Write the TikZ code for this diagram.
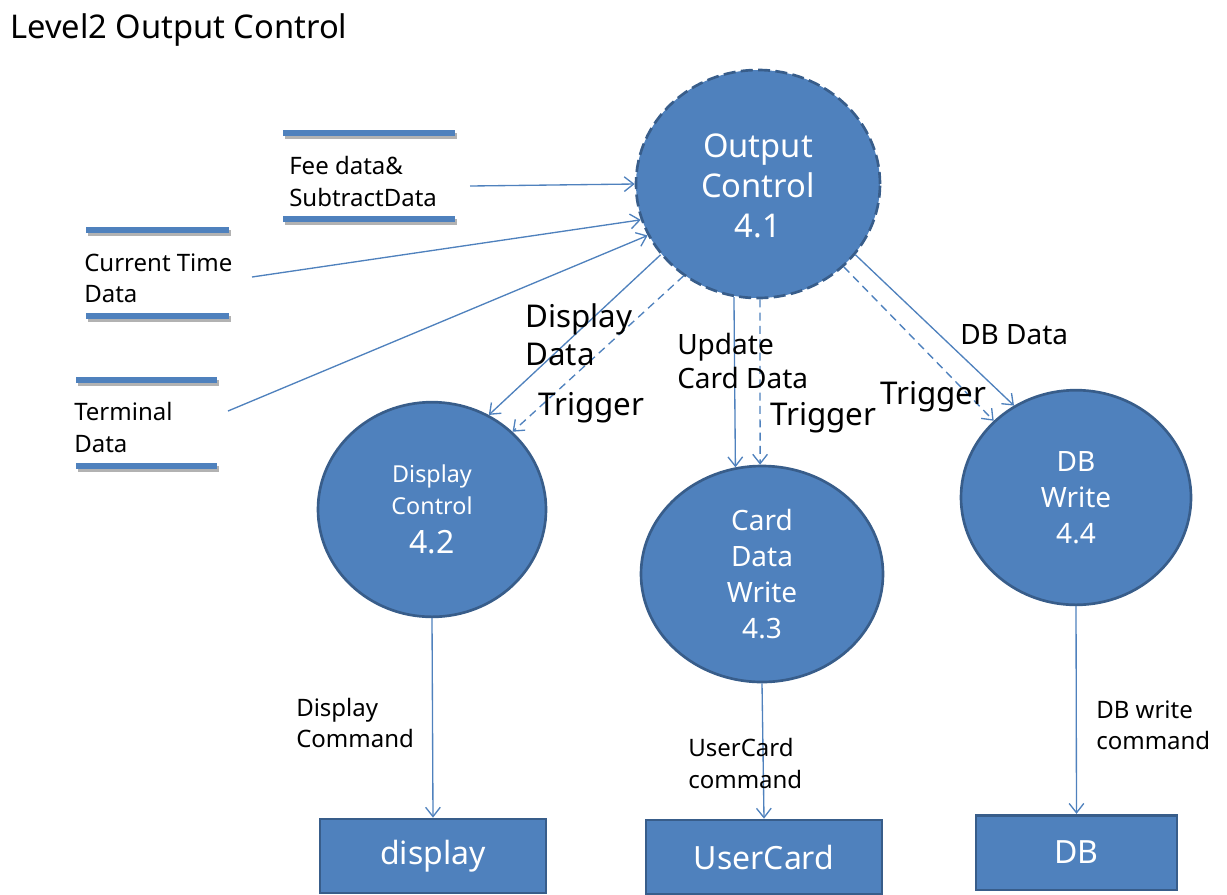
\documentclass[tikz,border=0pt]{standalone}
\usepackage{fontspec}
\setmainfont{Noto Sans}
\usetikzlibrary{arrows.meta,shapes.geometric}
\definecolor{procfill}{RGB}{79,129,189}
\definecolor{procline}{RGB}{56,93,138}

\begin{document}
\begin{tikzpicture}[x=0.75pt,y=0.75pt,yscale=-1,xscale=1,
  process/.style={ellipse,draw=procline,line width=2pt,fill=procfill,text=white,align=center,inner sep=0pt},
  sink/.style={rectangle,draw=procline,line width=2pt,fill=procfill,text=white,inner sep=0pt,font=\fontsize{24}{28}\selectfont},
  store/.style={procfill,line width=3.8pt},
  storeshadow/.style={black!30,line width=3.8pt},
  flow/.style={procfill,line width=1pt,-{Straight Barb[length=7pt,width=11pt]}},
  trig/.style={flow,dashed,dash pattern=on 6pt off 4pt},
  lbl/.style={anchor=west,inner sep=0pt,align=left},
  small/.style={font=\fontsize{18}{23.5}\selectfont},
  mid/.style={font=\fontsize{21}{25.5}\selectfont},
  big/.style={font=\fontsize{23.5}{28.5}\selectfont}]
\useasboundingbox (0,0) rectangle (1227,894);

% Text Node
\node[lbl,font=\fontsize{24.5}{28}\selectfont] (title) at (10,30) {Level2 Output Control};

%Shape: data stores
\foreach \xa/\xb/\ya/\yb in {283/455/133/219, 86/229/230/316, 76/217/380/466} {
  \draw[storeshadow] (\xa+2,\ya+3) -- (\xb+2,\ya+3) ;
  \draw[storeshadow] (\xa+2,\yb+3) -- (\xb+2,\yb+3) ;
  \draw[store] (\xa,\ya) -- (\xb,\ya) ;
  \draw[store] (\xa,\yb) -- (\xb,\yb) ;
}
% Text Node
\node[lbl,small] (fee) at (289,181.5) {Fee data\&\\SubtractData};
\node[lbl,small] (curtime) at (84,278) {Current\ Time\\Data};
\node[lbl,small] (terminal) at (74,427.5) {Terminal\\Data};

%Shape: processes
\node[process,dashed,dash pattern=on 9pt off 4pt,minimum width=183pt,minimum height=171pt] (outctl) at (758,184) {};
\node[text=white,align=center,font=\fontsize{24.5}{30}\selectfont] (outtxt) at (758,186) {Output\\Control\\4.1};
\node[process,minimum width=171pt,minimum height=161pt,font=\fontsize{17.5}{24}\selectfont] (dispctl) at (432,509.5)
  {Display\\Control\\[5pt]{\fontsize{24}{24}\selectfont 4.2}};
\node[process,minimum width=181.5pt,minimum height=162pt,font=\fontsize{21}{27}\selectfont] (cardwr) at (762,574) {Card\\Data\\Write\\4.3};
\node[process,minimum width=172.5pt,minimum height=161pt,font=\fontsize{21}{27}\selectfont] (dbwr) at (1076,497.5) {DB\\Write\\4.4};

%Shape: sinks
\node[sink,minimum width=169.5pt,minimum height=55.5pt] (display) at (433,856) {display};
\node[sink,minimum width=177pt,minimum height=55.5pt] (usercard) at (764,857) {UserCard};
\node[sink,minimum width=150.75pt,minimum height=56pt] (db) at (1076.5,852.5) {DB};

%Straight Lines: inputs
\coordinate (feeout) at (470,186);
\coordinate (curout) at (252,277);
\coordinate (termout) at (228,411);
\draw[flow] (feeout) -- (outctl.180.5) ;
\draw[flow] (curout) -- (outctl.197) ;
\draw[flow] (termout) -- (outctl.205) ;

%Straight Lines: outputs
\draw[flow] (outctl.216) -- (dispctl.59) ;
\draw[trig] (outctl.231) -- (dispctl.44) ;
\draw[flow] (outctl.258.6) -- (cardwr.104) ;
\draw[trig] (outctl.271) -- (cardwr.91) ;
\draw[flow] (outctl.324) -- (dbwr.124) ;
\draw[trig] (outctl.316) -- (dbwr.137) ;
\draw[flow] (dispctl.south) -- (display.north) ;
\draw[flow] (cardwr.south) -- (usercard.north) ;
\draw[flow] (dbwr.south) -- (db.north) ;

% Text Node
\node[lbl,big] (dispdata) at (525,335) {Display\\Data};
\node[lbl,big] (trigdisp) at (538,408) {Trigger};
\node[lbl,mid] (upcard) at (677,361) {Update\\Card\ Data};
\node[lbl,big] (trigcard) at (770,418) {Trigger};
\node[lbl,big] (trigdb) at (880,397) {Trigger};
\node[lbl,mid] (dbdata) at (960,335) {DB\ Data};
\node[lbl,small] (dispcmd) at (296,723) {Display\\Command};
\node[lbl,small] (cardcmd) at (688,763.5) {UserCard\\command};
\node[lbl,small] (dbcmd) at (1096,725) {DB write\\command};

\end{tikzpicture}
\end{document}
